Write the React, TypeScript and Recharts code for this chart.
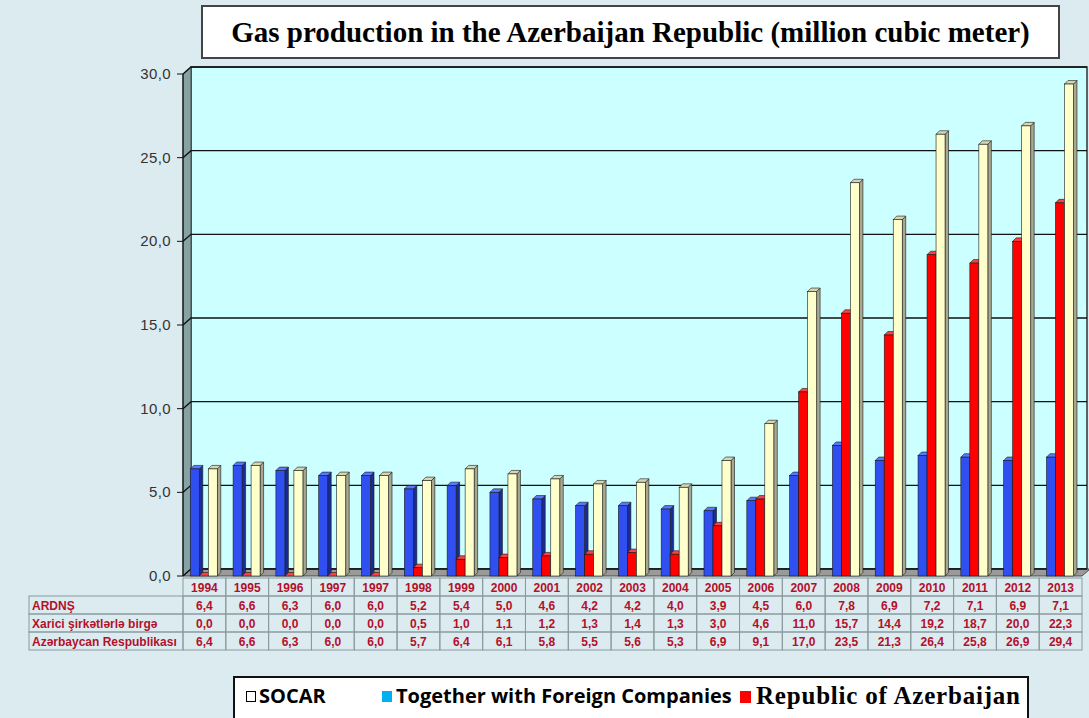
import React from "react";
import { BarChart, Bar, XAxis, YAxis, CartesianGrid } from "recharts";

// values
const years = [
  "1994", "1995", "1996", "1997", "1997", "1998", "1999", "2000", "2001", "2002", "2003",
  "2004", "2005", "2006", "2007", "2008", "2009", "2010", "2011", "2012", "2013",
];
const ardns = [6.4, 6.6, 6.3, 6.0, 6.0, 5.2, 5.4, 5.0, 4.6, 4.2, 4.2, 4.0, 3.9, 4.5, 6.0, 7.8, 6.9, 7.2, 7.1, 6.9, 7.1];
const xarici = [0.0, 0.0, 0.0, 0.0, 0.0, 0.5, 1.0, 1.1, 1.2, 1.3, 1.4, 1.3, 3.0, 4.6, 11.0, 15.7, 14.4, 19.2, 18.7, 20.0, 22.3];
const azRespublika = [6.4, 6.6, 6.3, 6.0, 6.0, 5.7, 6.4, 6.1, 5.8, 5.5, 5.6, 5.3, 6.9, 9.1, 17.0, 23.5, 21.3, 26.4, 25.8, 26.9, 29.4];
const rowLabels = ["ARDNŞ", "Xarici şirkətlərlə birgə", "Azərbaycan Respublikası"];
const yTicks = [0, 5, 10, 15, 20, 25, 30];

const data = years.map((year, i) => ({
  year,
  ardns: ardns[i],
  xarici: xarici[i],
  az: azRespublika[i],
}));

const W = 1089;
const H = 718;
const PLOT_LEFT = 183;
const PLOT_RIGHT = 1082;
const PLOT_TOP = 74;
const PLOT_BOTTOM = 576;
const DX = 8; // depth of the 3d box
const DY = 7;
const LABEL_X = 29;
const ROWS = [2, 20, 38, 56, 74]; // table row borders below the floor
const TABLE_RED = "#b3102a";

const fmt = (v: number) => v.toFixed(1).replace(".", ",");

// 3d column: front, side and top faces
const bar3d = (front: string, side: string, top: string) => (props: any) => {
  const { x, y, width, height } = props;
  if (x == null || y == null) return null;
  const h = Math.max(height || 0, 0);
  const d = 3.5;
  const x2 = x + width;
  const yb = y + h;
  return (
    <g>
      <polygon
        points={`${x2},${y} ${x2 + d},${y - d} ${x2 + d},${yb - d} ${x2},${yb}`}
        fill={side}
        stroke="#1a1a1a"
        strokeWidth={0.6}
      />
      <polygon
        points={`${x},${y} ${x + d},${y - d} ${x2 + d},${y - d} ${x2},${y}`}
        fill={top}
        stroke="#1a1a1a"
        strokeWidth={0.6}
      />
      <rect x={x} y={y} width={width} height={h} fill={front} stroke="#1a1a1a" strokeWidth={0.6} />
    </g>
  );
};

const GridLine = (props: any) => {
  const { x1, x2, y1 } = props;
  return (
    <polyline
      key={props.key ?? `g-${y1}`}
      points={`${x1},${y1} ${x1 + DX},${y1 - DY} ${x2 + DX - 3},${y1 - DY}`}
      fill="none"
      stroke="#111"
      strokeWidth={1.4}
    />
  );
};

const TableTick = (props: any) => {
  const { x, y, payload, index } = props;
  const half = payload && payload.offset ? payload.offset : (PLOT_RIGHT - PLOT_LEFT) / years.length / 2;
  const left = x - half;
  const w = half * 2;
  const cells = [years[index], fmt(ardns[index]), fmt(xarici[index]), fmt(azRespublika[index])];
  return (
    <g fontFamily="'Liberation Sans', Arial, sans-serif" fontWeight="bold" fontSize={12} fill={TABLE_RED}>
      {cells.map((c, r) => (
        <g key={r}>
          <rect
            x={left}
            y={y + ROWS[r]}
            width={w}
            height={ROWS[r + 1] - ROWS[r]}
            fill="none"
            stroke="#8a9a9e"
            strokeWidth={1}
          />
          <text x={x} y={y + (ROWS[r] + ROWS[r + 1]) / 2 + 4.5} textAnchor="middle">
            {c}
          </text>
        </g>
      ))}
      {index === 0 &&
        rowLabels.map((lab, r) => (
          <g key={`l${r}`}>
            <rect
              x={LABEL_X}
              y={y + ROWS[r + 1]}
              width={left - LABEL_X}
              height={ROWS[r + 2] - ROWS[r + 1]}
              fill="none"
              stroke="#8a9a9e"
              strokeWidth={1}
            />
            <text x={LABEL_X + 3} y={y + (ROWS[r + 1] + ROWS[r + 2]) / 2 + 4.5} textAnchor="start">
              {lab}
            </text>
          </g>
        ))}
    </g>
  );
};

const YTick = (props: any) => {
  const { x, y, payload } = props;
  return (
    <text
      x={x - 4}
      y={y + 5}
      textAnchor="end"
      style={{ fontFamily: "'Liberation Sans', Arial, sans-serif", fontSize: 15, letterSpacing: 0.4 }}
      fill="#333"
    >
      {fmt(payload.value)}
    </text>
  );
};

const Walls = () => (
  <svg width={W} height={H} style={{ position: "absolute", left: 0, top: 0 }}>
    <rect
      x={PLOT_LEFT + DX}
      y={PLOT_TOP - DY}
      width={PLOT_RIGHT + DX - 3 - (PLOT_LEFT + DX)}
      height={PLOT_BOTTOM - PLOT_TOP}
      fill="#ccffff"
      stroke="#333"
      strokeWidth={1.5}
    />
    <polygon
      points={`${PLOT_LEFT},${PLOT_TOP} ${PLOT_LEFT + DX},${PLOT_TOP - DY} ${PLOT_LEFT + DX},${PLOT_BOTTOM - DY} ${PLOT_LEFT},${PLOT_BOTTOM}`}
      fill="#86a3a3"
      stroke="#333"
      strokeWidth={0.8}
    />
    <polygon
      points={`${PLOT_LEFT},${PLOT_BOTTOM} ${PLOT_LEFT + DX},${PLOT_BOTTOM - DY} ${PLOT_RIGHT + DX},${PLOT_BOTTOM - DY} ${PLOT_RIGHT},${PLOT_BOTTOM}`}
      fill="#9a9a9a"
      stroke="#333"
      strokeWidth={0.8}
    />
  </svg>
);

const legendFont = "'Open Sans', Lato, sans-serif";

const App = () => {
  return (
    <div
      style={{
        position: "absolute",
        left: 0,
        top: 0,
        width: W,
        height: H,
        background: "#dcebf0",
        overflow: "hidden",
      }}
    >
      <Walls />
      <div style={{ position: "absolute", left: 0, top: 0 }}>
        <BarChart
          width={W}
          height={H}
          data={data}
          margin={{ top: PLOT_TOP, right: W - PLOT_RIGHT, left: 0, bottom: H - PLOT_BOTTOM - 80 }}
          barCategoryGap="17%"
          barGap={0}
        >
          <CartesianGrid vertical={false} horizontal={GridLine} />
          <XAxis
            dataKey="year"
            height={80}
            axisLine={false}
            tickLine={false}
            tickSize={0}
            tickMargin={0}
            interval={0}
            tick={<TableTick />}
          />
          <YAxis
            width={PLOT_LEFT}
            domain={[0, 30]}
            ticks={yTicks}
            interval={0}
            axisLine={{ stroke: "#111", strokeWidth: 1.2 }}
            tickLine={{ stroke: "#111" }}
            tickSize={6}
            tick={<YTick />}
          />
          <Bar dataKey="ardns" isAnimationActive={false} shape={bar3d("#2f4ff0", "#1a2c96", "#5a78ff")} />
          <Bar dataKey="xarici" isAnimationActive={false} shape={bar3d("#ff0000", "#a00000", "#ff4040")} />
          <Bar dataKey="az" isAnimationActive={false} shape={bar3d("#ffffcc", "#a8a890", "#d6d6b4")} />
        </BarChart>
      </div>

      <div
        style={{
          position: "absolute",
          left: 201,
          top: 5,
          width: 855,
          height: 50,
          border: "2px solid #444",
          background: "#fff",
          textAlign: "center",
          lineHeight: "50px",
          fontFamily: "'Liberation Serif', 'Times New Roman', serif",
          fontWeight: "bold",
          fontSize: 29,
          color: "#000",
          whiteSpace: "nowrap",
        }}
      >
        Gas production in the Azerbaijan Republic (million cubic meter)
      </div>

      <div
        style={{
          position: "absolute",
          left: 233,
          top: 676,
          width: 792,
          height: 40,
          border: "2px solid #111",
          background: "#fff",
          color: "#000",
          fontWeight: "bold",
          whiteSpace: "nowrap",
        }}
      >
        <span
          style={{
            position: "absolute",
            left: 11,
            top: 13,
            width: 10,
            height: 11,
            border: "1.3px solid #000",
            boxSizing: "border-box",
          }}
        />
        <span style={{ position: "absolute", left: 24, top: 4, fontFamily: legendFont, fontSize: 20 }}>SOCAR</span>
        <span style={{ position: "absolute", left: 147, top: 13, width: 10, height: 11, background: "#00b0f0" }} />
        <span style={{ position: "absolute", left: 161, top: 4, fontFamily: legendFont, fontSize: 20 }}>
          Together with Foreign Companies
        </span>
        <span style={{ position: "absolute", left: 505, top: 13, width: 11, height: 12, background: "#ff0000" }} />
        <span
          style={{
            position: "absolute",
            left: 521,
            top: 4,
            fontFamily: "'Liberation Serif', 'Times New Roman', serif",
            fontSize: 25,
            letterSpacing: 0.8,
          }}
        >
          Republic of Azerbaijan
        </span>
      </div>
    </div>
  );
};

export default App;
